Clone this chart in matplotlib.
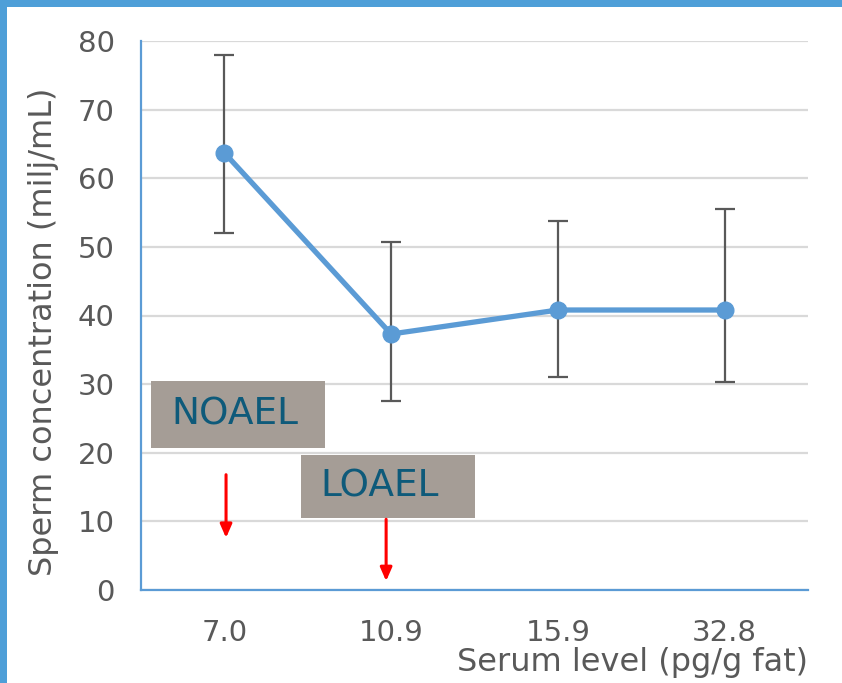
import matplotlib
matplotlib.use("Agg")
import matplotlib.pyplot as plt
from matplotlib.patches import Rectangle

categories = ["7.0", "10.9", "15.9", "32.8"]
values = [63.7, 37.3, 40.8, 40.8]
err_upper = [78.0, 50.7, 53.8, 55.5]
err_lower = [52.0, 27.6, 31.0, 30.3]
y_ticks = [0, 10, 20, 30, 40, 50, 60, 70, 80]

plt.rcParams['font.family'] = ['DejaVu Sans']
fig = plt.figure(figsize=(8.42, 6.83), dpi=100)
ax = fig.add_axes([141/842, 1-590/683, (808-141)/842, (590-41)/683])

x = [i + 0.5 for i in range(len(categories))]
yerr = [[v - lo for v, lo in zip(values, err_lower)],
        [hi - v for v, hi in zip(values, err_upper)]]

ax.errorbar(x, values, yerr=yerr, fmt='none', ecolor='#595959', elinewidth=1.6,
            capsize=7, capthick=1.6, zorder=3)
ax.plot(x, values, color='#5B9BD5', lw=3.8, marker='o', markersize=12,
        solid_capstyle='round', zorder=4)

ax.set_xlim(0, 4)
ax.set_ylim(0, 80)
ax.set_yticks(y_ticks)
ax.set_xticks(x)
ax.set_xticklabels(categories)
ax.grid(axis='y', color='#D9D9D9', lw=1.6, zorder=0)
ax.set_axisbelow(True)
for s in ['top', 'right']:
    ax.spines[s].set_visible(False)
for s in ['left', 'bottom']:
    ax.spines[s].set_color('#5B9BD5')
    ax.spines[s].set_linewidth(1.6)
ax.tick_params(length=0, labelsize=21, colors='#595959')
ax.tick_params(axis='y', pad=19)
ax.tick_params(axis='x', pad=21)
fig.text(44/842, 1-332/683, 'Sperm concentration (milj/mL)', fontsize=23, color='#595959',
         rotation=90, ha='center', va='center')
fig.text(808/842, 1-663/683, 'Serum level (pg/g fat)', fontsize=23, color='#595959',
         ha='right', va='center')

# annotation boxes
box_col = '#A59D96'
txt_col = '#0E5A7A'
ax.add_patch(Rectangle((0.06, 20.7), 1.043, 9.8, facecolor=box_col, edgecolor='none', zorder=5))
ax.text(0.56, 25.6, 'NOAEL', fontsize=27, color=txt_col, ha='center', va='center', zorder=6)
ax.add_patch(Rectangle((0.96, 10.5), 1.043, 9.2, facecolor=box_col, edgecolor='none', zorder=5))
ax.text(1.43, 15.1, 'LOAEL', fontsize=27, color=txt_col, ha='center', va='center', zorder=6)

arrowprops = dict(arrowstyle='-|>,head_length=0.8,head_width=0.35', color='#FF0000', lw=2.2,
                  shrinkA=0, shrinkB=0)
ax.annotate('', xy=(0.51, 7.6), xytext=(0.51, 16.8), arrowprops=arrowprops, zorder=6)
ax.annotate('', xy=(1.47, 1.3), xytext=(1.47, 10.3), arrowprops=arrowprops, zorder=6)

# blue frame
fig.add_artist(Rectangle((0, 1-7/683), 1, 7/683, transform=fig.transFigure,
                         facecolor='#4E9FD8', edgecolor='none'))
fig.add_artist(Rectangle((0, 0), 7/842, 1, transform=fig.transFigure,
                         facecolor='#4E9FD8', edgecolor='none'))

fig.savefig('out.png', dpi=100)
